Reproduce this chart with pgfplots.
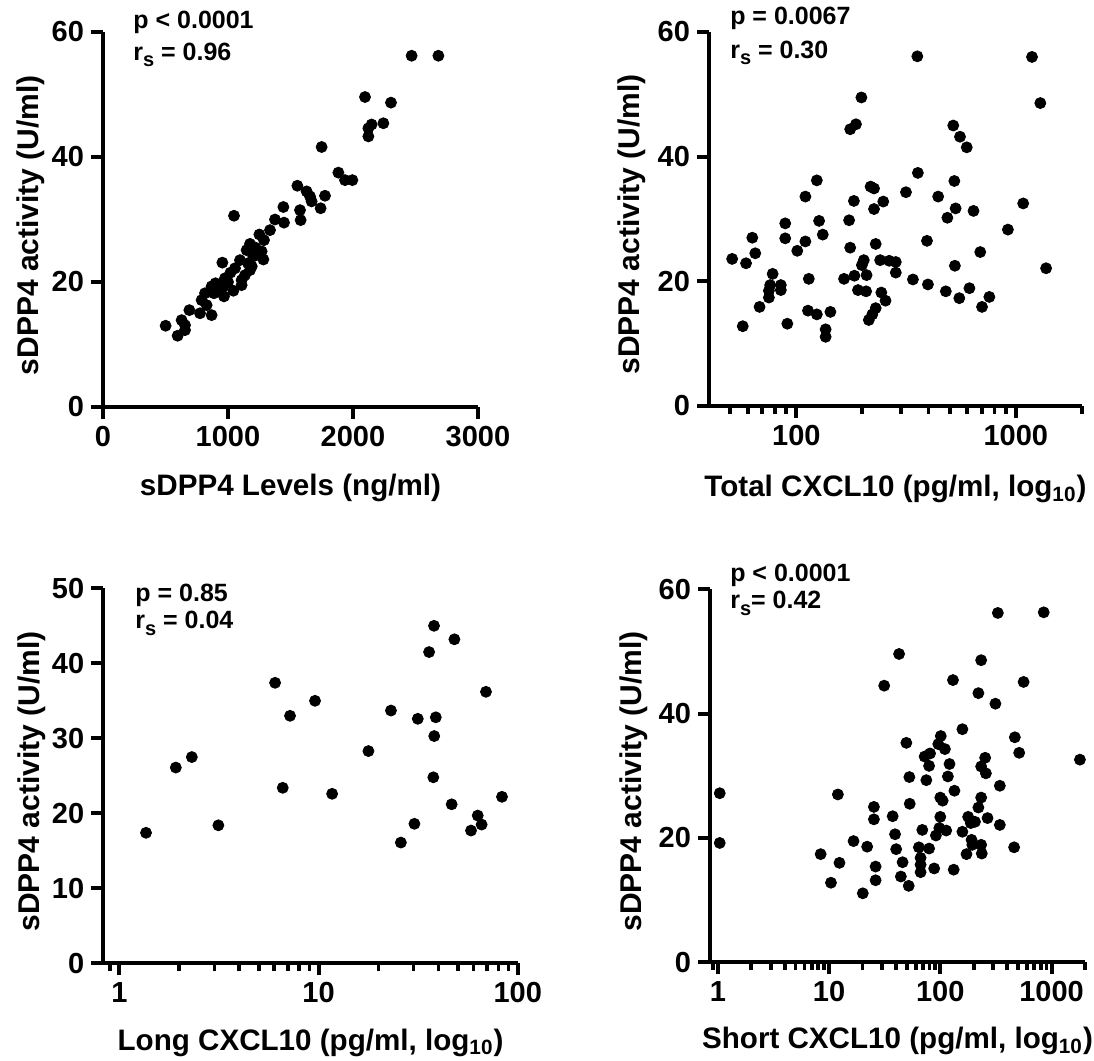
\documentclass[border=0pt]{standalone}
\usepackage{fontspec}
\setmainfont{Liberation Sans}
\usepackage{pgfplots}
\pgfplotsset{compat=1.18}

\newcommand{\rs}{r\raisebox{-0.5ex}{\fontsize{10}{12}\selectfont s}}

\pgfplotsset{
  gp/.style={
    scale only axis,
    axis lines=left,
    axis line style={-, line width=2pt, black},
    tick align=outside,
    major tick length=6pt,
    minor tick length=3.8pt,
    major tick style={line width=2pt, black},
    minor tick style={line width=1.9pt, black},
    tick label style={font=\fontsize{14.5}{16}\selectfont\bfseries},
    /pgf/number format/assume math mode=true,
    ymin=0,
    clip=false,
    anchor=south west,
    ylabel={sDPP4 activity (U/ml)},
  },
  xl/.style={every axis x label/.append style={at={(axis description cs:0.5,#1)}, anchor=center,
      font=\fontsize{14.8}{17}\selectfont\bfseries}},
  yl/.style={every axis y label/.append style={at={(axis description cs:#1,0.485)}, anchor=center,
      font=\fontsize{15}{17}\selectfont\bfseries}},
  dots/.style={only marks, mark=*, mark size=2.75pt, black, mark options={draw=black, fill=black}},
}
\tikzset{stat/.style={anchor=west, font=\fontsize{12.5}{15}\selectfont\bfseries, inner sep=0pt}}

\begin{document}
\begin{tikzpicture}
\useasboundingbox (0,0) rectangle (547pt,-530.5pt);

% top left: activity vs levels
\begin{axis}[gp, at={(51.5pt,-203.5pt)}, width=187.5pt, height=187.5pt,
    xmin=0, xmax=3000, ymax=60,
    xtick={0,1000,2000,3000}, xticklabels={0,1000,2000,3000},
    ytick={0,20,40,60},
    xlabel={sDPP4 Levels (ng/ml)},
    xl=-0.215, yl=-0.192]
\addplot[dots] coordinates {
 (2469,56.2) (2683,56.2) (2096,49.6) (2304,48.7) (2243,45.4) (2149,45.2)
 (2123,44.6) (2123,43.3) (1749,41.6) (1883,37.5) (1936,36.3) (1995,36.3)
 (1555,35.4) (1629,34.5) (1656,33.7) (1776,33.8) (1669,32.9) (1576,31.5)
 (1741,31.8) (1581,29.9) (1443,32.0) (1048,30.6) (1376,30.0) (1448,29.5)
 (1336,28.3) (1251,27.6) (1288,26.7) (1176,26.1) (1149,25.1) (1269,24.9)
 (1283,23.6) (1203,24.1) (1096,23.5) (955,23.1) (1056,22.2) (1176,21.9)
 (1136,21.1) (1109,20.3) (1109,19.5) (976,20.6) (1043,18.6) (963,19.3)
 (869,19.3) (816,18.2) (888,18.2) (968,17.7) (789,17.1) (829,16.3)
 (776,15.0) (869,14.7) (691,15.5) (629,13.9) (656,13.1) (501,13.0)
 (656,12.3) (597,11.4) (1020,21.5) (1160,23.0) (1220,25.5) (900,19.8)
 (1000,20.0) (1190,22.5) (940,18.5)
};
\node[stat] at (rel axis cs:0.08,1.027) {p < 0.0001};
\node[stat] at (rel axis cs:0.08,0.939) {\rs{} = 0.96};
\end{axis}

% top right: total CXCL10
\begin{axis}[gp, at={(354.5pt,-203pt)}, width=186.4pt, height=187pt,
    xmode=log, xmin=40, xmax=2000, ymax=60,
    xtick={100,1000}, xticklabels={100,1000},
    minor xtick={50,60,70,80,90,200,300,400,500,600,700,800,900,2000},
    ytick={0,20,40,60},
    xlabel={Total CXCL10 (pg/ml, log\textsubscript{10})},
    xl=-0.222, yl=-0.207]
\addplot[dots] coordinates {
 (356,56.1) (1186,56.0) (198,49.5) (1294,48.6) (176,44.4) (187,45.2)
 (519,45.0) (557,43.2) (598,41.5) (358,37.4) (525,36.1) (124,36.2)
 (218,35.2) (226,34.9) (316,34.3) (443,33.6) (110,33.6) (183,32.9)
 (249,32.8) (1081,32.5) (226,31.6) (532,31.7) (642,31.3) (488,30.2)
 (89,29.3) (127,29.7) (174,29.8) (921,28.3) (132,27.5) (63,27.0)
 (89,26.9) (110,26.4) (394,26.5) (230,26.0) (101,24.9) (65,24.5)
 (176,25.4) (689,24.7) (51,23.6) (59,22.9) (203,23.4) (241,23.4)
 (265,23.3) (284,23.1) (199,22.6) (1375,22.1) (528,22.5) (284,21.4)
 (78,21.2) (114,20.4) (165,20.4) (184,20.9) (209,21.0) (340,20.3)
 (398,19.5) (76,19.4) (85,19.4) (75,18.5) (85,18.6) (75,17.4)
 (191,18.6) (208,18.4) (480,18.4) (615,18.9) (244,18.2) (553,17.3)
 (758,17.5) (255,16.9) (68,15.9) (702,15.9) (230,15.7) (113,15.3)
 (124,14.7) (143,15.1) (222,14.7) (214,13.8) (91,13.2) (57,12.8)
 (136,12.3) (136,11.1)
};
\node[stat] at (rel axis cs:0.056,1.037) {p = 0.0067};
\node[stat] at (rel axis cs:0.056,0.944) {\rs{} = 0.30};
\end{axis}

% bottom left: long CXCL10
\begin{axis}[gp, at={(51.65pt,-481.65pt)}, width=207.2pt, height=187.5pt,
    xmode=log, xmin=0.83, xmax=100, ymax=50,
    xtick={1,10,100}, xticklabels={1,10,100},
    minor xtick={0.9,2,3,4,5,6,7,8,9,20,30,40,50,60,70,80,90},
    ytick={0,10,20,30,40,50},
    xlabel={Long CXCL10 (pg/ml, log\textsubscript{10})},
    xl=-0.212, yl=-0.172]
\addplot[dots] coordinates {
 (1.36,17.4) (1.92,26.1) (2.31,27.5) (3.14,18.4) (6.05,37.4) (6.61,23.4)
 (7.19,33.0) (9.6,35.0) (11.7,22.6) (17.8,28.3) (23.1,33.7) (25.9,16.1)
 (30.3,18.6) (31.5,32.6) (35.9,41.5) (38.0,45.0) (38.8,32.8) (38.1,30.3)
 (37.7,24.8) (46.6,21.2) (48.1,43.2) (58.3,17.7) (63.0,19.7) (65.9,18.5)
 (69.3,36.2) (83.4,22.2)
};
\node[stat] at (rel axis cs:0.0765,0.982) {p = 0.85};
\node[stat] at (rel axis cs:0.0765,0.907) {\rs{} = 0.04};
\end{axis}

% bottom right: short CXCL10
\begin{axis}[gp, at={(355pt,-481.15pt)}, width=187.5pt, height=186.5pt,
    xmode=log, xmin=0.85, xmax=2000, ymax=60,
    xtick={1,10,100,1000}, xticklabels={1,10,100,1000},
    minor xtick={0.9,2,3,4,5,6,7,8,9,20,30,40,50,60,70,80,90,200,300,400,500,600,700,800,900,2000},
    ytick={0,20,40,60},
    xlabel={Short CXCL10 (pg/ml, log\textsubscript{10})},
    xl=-0.212, yl=-0.203]
\addplot[dots] coordinates {
 (1.04,27.2) (1.04,19.2) (12.0,27.0) (8.4,17.4) (12.4,16.0) (10.4,12.8)
 (16.6,19.5) (22.0,18.6) (20.1,11.1) (26.2,15.4) (26.2,13.2) (25.3,25.0)
 (25.3,23.0) (31.3,44.5) (42.6,49.6) (37.3,23.5) (39.2,20.6) (40.1,18.2)
 (45.8,16.1) (44.2,13.8) (52.0,12.3) (49.5,35.3) (52.7,29.8) (53.1,25.5)
 (68.9,21.3) (64.2,18.5) (79.3,18.3) (66.5,16.8) (66.5,15.7) (66.5,14.5)
 (88.1,15.1) (72.3,33.1) (80.9,33.6) (79.3,31.6) (74.9,29.3) (91.3,20.4)
 (101,36.4) (95.9,35.1) (110,34.3) (121,31.9) (117,29.9) (100,26.5)
 (105,26.0) (100,23.4) (98,21.6) (113,21.2) (130,45.4) (134,27.6)
 (132,14.9) (158,37.5) (158,21.0) (172,17.4) (178,23.4) (188,22.4)
 (191,19.7) (205,22.6) (194,18.9) (220,43.3) (233,48.6) (220,24.9)
 (233,26.5) (233,31.5) (253,32.9) (257,30.4) (233,18.9) (236,17.5)
 (266,23.2) (329,56.2) (313,41.6) (343,28.4) (343,22.1) (468,36.2)
 (512,33.7) (461,18.5) (561,45.1) (851,56.3) (1800,32.6)
};
\node[stat] at (rel axis cs:0.053,1.038) {p < 0.0001};
\node[stat] at (rel axis cs:0.053,0.963) {\rs= 0.42};
\end{axis}
\end{tikzpicture}
\end{document}
